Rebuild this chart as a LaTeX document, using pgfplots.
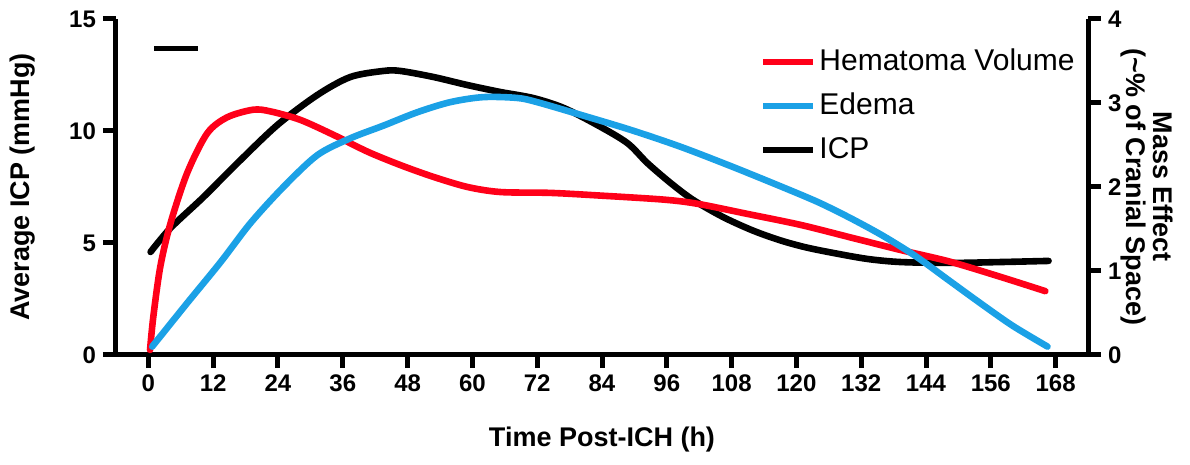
\documentclass[border=0pt]{standalone}
\usepackage{pgfplots}
\pgfplotsset{compat=1.18}
\usepackage{fontspec}
\setmainfont{Liberation Sans}
\definecolor{hred}{RGB}{255,0,25}
\definecolor{eblue}{RGB}{27,161,230}
\pgfplotsset{
  base/.style={
    scale only axis, width=486pt, height=168pt,
    xmin=-6, xmax=174,
    at={(0,0)}, anchor=south west,
    clip=false,
    axis line style={line width=2.5pt},
    tick align=outside,
    major tick length=6.5pt,
    tick style={line width=2.5pt, black},
    /pgf/number format/assume math mode=true,
    ticklabel style={font=\bfseries\fontsize{12}{14}\selectfont},
    label style={font=\bfseries\fontsize{13.5}{13.5}\selectfont},
  }
}
\begin{document}
\begin{tikzpicture}
\useasboundingbox (-58pt,-55pt) rectangle (537pt,177.5pt);
\begin{axis}[base,
  axis x line*=bottom, axis y line*=left,
  ymin=0, ymax=15, ytick={0,5,10,15},
  xtick={0,12,...,168},
  xlabel={Time Post-ICH (h)},
  ylabel={Average ICP (mmHg)},
  xlabel style={at={(axis description cs:0.5,-0.253)}, anchor=center},
  ylabel style={at={(axis description cs:-0.0957,0.5)}, anchor=center},
]
\addplot[black, line width=3.3pt, smooth, line cap=round] coordinates {
(0.4,4.60)(4.1,5.67)(10.2,7.05)(16.5,8.57)(23.9,10.27)(31.3,11.61)(37.4,12.41)(43.5,12.68)(46.7,12.68)(52.8,12.41)(59.1,12.05)(65.2,11.74)(71.3,11.47)(76.9,11.03)(83.1,10.27)(88.7,9.46)(92.4,8.57)(96.7,7.68)(100.9,6.92)(106.5,6.15)(112.0,5.55)(117.0,5.12)(121.5,4.82)(126.3,4.58)(133.1,4.29)(139.3,4.15)(148.5,4.11)(157.8,4.15)(166.7,4.20)
};
\addplot[black, line width=2.5pt] coordinates {(1.1,13.67)(9.1,13.67)};
\end{axis}
\begin{axis}[base,
  axis x line=none, axis y line*=right,
  ymin=0, ymax=4, ytick={0,1,2,3,4},
  ylabel={Mass Effect\\(\textasciitilde\% of Cranial Space)},
  ylabel style={align=center, rotate=180, at={(axis description cs:1.0607,0.5)}, anchor=center},
  legend style={at={(axis description cs:0.6626,0.923)}, anchor=north west, draw=none, fill=none, inner sep=0pt,
    font=\fontsize{15}{18}\selectfont, row sep=5pt, nodes={inner sep=1.5pt, text height=11pt, text depth=3pt}},
  legend cell align=left,
  legend image code/.code={\draw[#1, line width=3pt, line cap=butt] (0pt,0pt) -- (25pt,0pt);},
]
\addplot[hred, line width=3.3pt, smooth, line cap=round] coordinates {
(0.3,0.06)(0.9,0.45)(2.2,1.05)(4.1,1.57)(7.2,2.17)(10.9,2.64)(14.6,2.83)(19.4,2.92)(22.6,2.90)(28.1,2.80)(34.3,2.62)(40.6,2.42)(46.7,2.26)(52.8,2.12)(59.1,2.00)(65.2,1.94)(74.4,1.93)(83.1,1.90)(95.4,1.85)(101.7,1.80)(110.9,1.68)(120.7,1.55)(130.0,1.40)(139.3,1.25)(148.5,1.11)(157.8,0.93)(166.1,0.76)
};
\addlegendentry{Hematoma Volume}
\addplot[eblue, line width=3.3pt, smooth, line cap=round] coordinates {
(0.7,0.10)(7.2,0.62)(13.3,1.10)(18.9,1.57)(25.0,2.00)(31.3,2.38)(37.4,2.58)(43.5,2.73)(49.8,2.89)(55.9,3.01)(62.0,3.07)(68.3,3.06)(72.0,3.01)(80.0,2.86)(89.3,2.68)(98.5,2.48)(107.8,2.25)(117.0,2.01)(124.0,1.82)(130.0,1.63)(136.0,1.42)(142.0,1.18)(148.0,0.90)(154.0,0.62)(160.0,0.35)(166.5,0.10)
};
\addlegendentry{Edema}
\addlegendimage{black, line width=3.3pt}
\addlegendentry{ICP}
\end{axis}
\end{tikzpicture}
\end{document}
